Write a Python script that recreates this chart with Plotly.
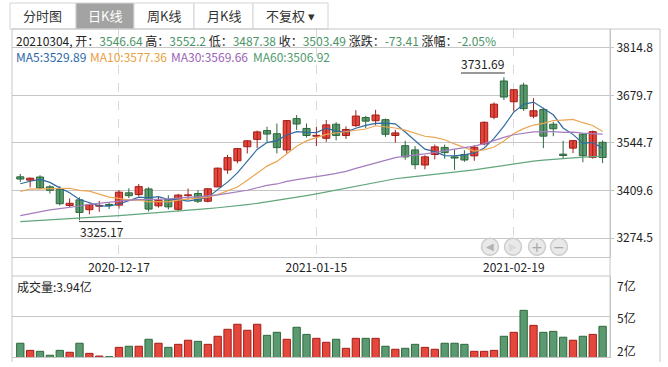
import plotly.graph_objects as go

# ---------------- data ----------------
dates = ["2020-12-03","2020-12-04","2020-12-07","2020-12-08","2020-12-09","2020-12-10","2020-12-11",
         "2020-12-14","2020-12-15","2020-12-16","2020-12-17","2020-12-18","2020-12-21","2020-12-22",
         "2020-12-23","2020-12-24","2020-12-25","2020-12-28","2020-12-29","2020-12-30","2020-12-31",
         "2021-01-04","2021-01-05","2021-01-06","2021-01-07","2021-01-08","2021-01-11","2021-01-12",
         "2021-01-13","2021-01-14","2021-01-15","2021-01-18","2021-01-19","2021-01-20","2021-01-21",
         "2021-01-22","2021-01-25","2021-01-26","2021-01-27","2021-01-28","2021-01-29","2021-02-01",
         "2021-02-02","2021-02-03","2021-02-04","2021-02-05","2021-02-08","2021-02-09","2021-02-10",
         "2021-02-18","2021-02-19","2021-02-22","2021-02-23","2021-02-24","2021-02-25","2021-02-26",
         "2021-03-01","2021-03-02","2021-03-03","2021-03-04"]

opens = [3448.5, 3439, 3448, 3420, 3413, 3367, 3383, 3355, 3365, 3370,
         3368, 3403, 3398, 3414, 3366, 3384, 3356, 3395, 3401, 3379,
         3419.73, 3468, 3494, 3534, 3555, 3580, 3571, 3525, 3614, 3586,
         3564, 3558, 3598, 3566, 3594, 3617, 3608, 3611, 3566, 3537,
         3525, 3482, 3512, 3532, 3505, 3512, 3508, 3542, 3618, 3721,
         3662, 3709, 3621, 3640, 3598, 3513, 3530, 3570, 3504, 3546.64]
highs = [3456.6, 3446.5, 3453, 3425, 3422, 3387, 3390, 3372, 3380, 3376,
         3411, 3416, 3428, 3419, 3392, 3396, 3400, 3415, 3410, 3416,
         3474.92, 3511, 3530, 3552, 3580, 3591, 3600, 3610, 3624, 3600,
         3590, 3610, 3604, 3592, 3638, 3622, 3639, 3614, 3582, 3551,
         3536, 3510, 3540, 3540, 3526, 3524, 3539, 3606, 3660, 3731.69,
         3697, 3716, 3672, 3645, 3605, 3551, 3553, 3572, 3580, 3552.2]
lows = [3434, 3418.6, 3413, 3401, 3367, 3362, 3325.17, 3342, 3349, 3357,
        3358, 3388, 3393, 3350, 3361, 3356, 3350, 3383, 3374, 3376,
        3419.73, 3457, 3487, 3515, 3530, 3547, 3515, 3515, 3582, 3560,
        3536, 3548, 3552, 3556, 3590, 3587, 3595, 3562, 3546, 3497,
        3470, 3470, 3498, 3500, 3468, 3491, 3494, 3538, 3612, 3667,
        3634, 3636, 3615, 3530, 3564, 3502, 3516, 3490, 3500, 3487.38]
closes = [3442.14, 3444.58, 3416.60, 3410.18, 3371.96, 3373.28, 3347.19, 3369.12, 3367.23, 3366.98,
          3404.87, 3394.90, 3420.57, 3356.78, 3382.32, 3363.11, 3396.56, 3397.29, 3379.04, 3414.45,
          3473.07, 3502.96, 3528.68, 3550.88, 3576.20, 3570.11, 3531.50, 3608.34, 3598.65, 3565.90,
          3566.38, 3596.22, 3566.12, 3583.09, 3621.26, 3606.75, 3624.24, 3569.43, 3573.34, 3505.18,
          3483.07, 3505.28, 3533.68, 3517.31, 3501.86, 3496.33, 3532.44, 3603.49, 3655.09, 3675.36,
          3696.17, 3642.44, 3636.36, 3564.08, 3585.05, 3509.08, 3551.40, 3508.59, 3576.90, 3503.49]

ma5 = [3428.71, 3435.96, 3440.93, 3432.58, 3417.09, 3403.32, 3383.84, 3374.35, 3365.76, 3364.76,
       3371.08, 3380.62, 3390.91, 3388.82, 3391.89, 3383.54, 3383.87, 3379.21, 3383.66, 3390.09,
       3412.08, 3433.36, 3459.64, 3494.01, 3526.36, 3545.77, 3551.47, 3567.41, 3576.96, 3574.90,
       3574.15, 3587.10, 3578.65, 3575.54, 3586.61, 3594.69, 3600.29, 3600.95, 3599.00, 3575.79,
       3551.05, 3527.26, 3520.11, 3508.90, 3508.24, 3510.89, 3516.32, 3530.29, 3557.84, 3592.54,
       3632.51, 3654.51, 3661.08, 3642.88, 3624.82, 3587.40, 3569.19, 3543.64, 3546.20, 3529.89]
ma10 = [3407.06, 3413.75, 3413.96, 3414.70, 3415.66, 3416.01, 3409.90, 3407.64, 3399.17, 3390.93,
        3387.20, 3382.23, 3382.63, 3377.29, 3378.32, 3377.31, 3382.24, 3385.06, 3386.24, 3390.99,
        3397.81, 3408.62, 3419.43, 3438.84, 3458.22, 3478.92, 3492.42, 3513.52, 3535.48, 3550.63,
        3559.96, 3569.29, 3573.03, 3576.25, 3580.76, 3584.42, 3593.70, 3589.80, 3587.27, 3581.20,
        3572.87, 3563.78, 3560.53, 3553.95, 3542.01, 3530.97, 3521.79, 3525.20, 3533.37, 3550.39,
        3571.70, 3585.42, 3595.69, 3600.36, 3608.68, 3609.96, 3611.85, 3602.36, 3594.54, 3577.36]
ma30 = [3338.29, 3343.84, 3349.36, 3354.56, 3357.98, 3361.33, 3365.42, 3370.22, 3373.43, 3376.41,
        3379.23, 3381.98, 3383.54, 3383.43, 3384.77, 3385.58, 3388.46, 3390.14, 3391.44, 3393.68,
        3397.35, 3401.52, 3405.33, 3410.27, 3417.40, 3424.08, 3428.19, 3435.41, 3440.30, 3444.18,
        3448.32, 3453.38, 3458.36, 3464.13, 3472.44, 3480.22, 3489.45, 3496.13, 3503.00, 3507.61,
        3510.21, 3513.89, 3517.66, 3523.01, 3527.00, 3531.44, 3535.97, 3542.84, 3552.04, 3560.74,
        3568.18, 3572.83, 3576.42, 3576.86, 3577.15, 3575.12, 3575.78, 3572.45, 3571.73, 3569.66]
ma60 = [3321, 3322.5, 3324, 3325.5, 3327, 3329, 3331, 3332.5, 3334, 3336,
        3338, 3340, 3342, 3344, 3346, 3348, 3350, 3352.5, 3355, 3358,
        3360.5, 3363, 3366, 3369.5, 3373, 3377, 3381, 3385.5, 3390, 3395,
        3400, 3405.5, 3411, 3417, 3423, 3428, 3433, 3438, 3443, 3446,
        3449, 3452, 3455, 3458, 3461.5, 3465, 3468, 3472.5, 3477, 3481.5,
        3486, 3489.5, 3493, 3496, 3498.5, 3501, 3503, 3504.5, 3505.8, 3506.92]

volumes = [2.87, 2.42, 2.36, 2.11, 2.42, 2.30, 2.87, 2.23, 2.06, 2.02,
           2.61, 2.68, 2.68, 3.12, 2.87, 2.61, 2.80, 3.06, 2.99, 2.80,
           3.31, 3.75, 4.07, 3.69, 4.07, 3.37, 3.56, 3.12, 3.88, 3.43,
           3.18, 2.93, 3.12, 2.55, 3.18, 3.18, 3.18, 2.68, 2.49, 2.55,
           2.80, 2.61, 2.49, 2.87, 2.87, 2.80, 2.36, 2.36, 2.42, 3.31,
           3.56, 4.95, 4.00, 3.56, 3.62, 3.25, 3.06, 3.31, 3.43, 3.94]

price_ticks = [3274.5, 3409.6, 3544.7, 3679.7, 3814.8]
price_tick_labels = ["3274.5", "3409.6", "3544.7", "3679.7", "3814.8"]
date_ticks = ["2020-12-17", "2021-01-15", "2021-02-19"]
vol_tick_labels = ["7亿", "5亿", "2亿"]
tabs = ["分时图", "日K线", "周K线", "月K线", "不复权"]
ma_names = ["MA5", "MA10", "MA30", "MA60"]

# ---------------- style ----------------
W, H = 668, 367
FONT = "Noto Sans CJK SC"
FS = 12
RED_FILL, RED_LINE = "#e5473d", "#a11e18"
GRN_FILL, GRN_LINE = "#5b9a70", "#2c683c"
MA_COLORS = ["#2f6aa3", "#eaa655", "#a57cbf", "#62a67c"]
MA_TEXT = ["#2d68a8", "#e8a040", "#9b63b8", "#4f9a6c"]
VAL_GREEN = "#4b9467"
GRID = "#c6c6c6"
TXT = "#222222"


def fx(x):
    return x / W


def fy(y):
    return 1 - y / H


up = [c >= o for o, c in zip(opens, closes)]
fills = [RED_FILL if u else GRN_FILL for u in up]
edges = [RED_LINE if u else GRN_LINE for u in up]

fig = go.Figure()

# wicks
for flag, col in ((True, RED_LINE), (False, GRN_LINE)):
    wx, wy = [], []
    for d, h, l, u in zip(dates, highs, lows, up):
        if u == flag:
            wx += [d, d, None]
            wy += [l, h, None]
    fig.add_trace(go.Scatter(x=wx, y=wy, mode="lines", line=dict(color=col, width=1),
                             hoverinfo="skip", showlegend=False, xaxis="x", yaxis="y"))

# bodies
fig.add_trace(go.Bar(x=dates, y=[max(abs(c - o), 0.6) for o, c in zip(opens, closes)],
                     base=[min(o, c) for o, c in zip(opens, closes)], width=0.72,
                     marker=dict(color=fills, line=dict(color=edges, width=1)),
                     showlegend=False, xaxis="x", yaxis="y"))

# moving averages
for name, vals, col in zip(ma_names, [ma5, ma10, ma30, ma60], MA_COLORS):
    fig.add_trace(go.Scatter(x=dates, y=vals, mode="lines", name=name,
                             line=dict(color=col, width=1.2), showlegend=False,
                             xaxis="x", yaxis="y"))

# volume
fig.add_trace(go.Bar(x=dates, y=volumes, width=0.74,
                     marker=dict(color=fills, line=dict(color=edges, width=1)),
                     showlegend=False, xaxis="x2", yaxis="y2"))

xr = [-0.84, 59.75]
fig.update_layout(
    width=W, height=H, margin=dict(l=0, r=0, t=0, b=0),
    paper_bgcolor="white", plot_bgcolor="white", barmode="overlay",
    font=dict(family=FONT, size=FS, color=TXT),
    xaxis=dict(type="category", categoryorder="array", categoryarray=dates,
               domain=[fx(12), fx(610)], range=xr, anchor="y",
               tickmode="array", tickvals=date_ticks, ticktext=date_ticks,
               showgrid=True, gridcolor="#d9d9d9", griddash="dash", gridwidth=1,
               showline=True, linecolor=GRID, ticks="", zeroline=False,
               tickfont=dict(size=FS, color=TXT, family=FONT)),
    yaxis=dict(domain=[fy(257), fy(29)], range=[3220.5, 3868.8], side="right",
               tickmode="array", tickvals=price_ticks, ticktext=price_tick_labels,
               showgrid=True, gridcolor=GRID, ticks="outside", ticklen=3, tickcolor=GRID,
               showline=True, linecolor=GRID, zeroline=False, anchor="x",
               tickfont=dict(size=FS, color=TXT, family=FONT)),
    xaxis2=dict(type="category", categoryorder="array", categoryarray=dates,
                domain=[fx(12), fx(610)], range=xr, anchor="y2",
                showticklabels=False, showgrid=False, showline=True, linecolor=GRID,
                ticks="", zeroline=False),
    yaxis2=dict(domain=[fy(357), fy(276)], range=[2.0, 7.12], side="right", anchor="x2",
                tickvals=[4.56], showticklabels=False, showgrid=True, gridcolor=GRID,
                showline=True, linecolor=GRID, ticks="", zeroline=False),
)

shapes = []
ann = []


def hline(x0, x1, y, color=GRID, width=1):
    shapes.append(dict(type="line", xref="paper", yref="paper", x0=fx(x0), x1=fx(x1),
                       y0=fy(y), y1=fy(y), line=dict(color=color, width=width)))


def vline(x, y0, y1, color=GRID, width=1):
    shapes.append(dict(type="line", xref="paper", yref="paper", x0=fx(x), x1=fx(x),
                       y0=fy(y0), y1=fy(y1), line=dict(color=color, width=width)))


# frame
hline(12, 660, 29)
hline(12, 610, 276)
vline(12, 29, 362)
vline(610, 29, 357)
vline(660, 29, 362)

# tabs
tab_edges = [10, 76, 134, 194, 253, 328]
for i, t in enumerate(tabs):
    x0, x1 = tab_edges[i], tab_edges[i + 1]
    sel = (i == 1)
    shapes.append(dict(type="rect", xref="paper", yref="paper", x0=fx(x0), x1=fx(x1),
                       y0=fy(29), y1=fy(3), line=dict(color="#d4d4d4", width=1),
                       fillcolor="#a3a3a3" if sel else "white", layer="below"))
    label = t + " ▾" if i == 4 else t
    ann.append(dict(xref="paper", yref="paper", x=fx((x0 + x1) / 2), y=fy(16),
                    text=label, showarrow=False, xanchor="center", yanchor="middle",
                    font=dict(size=13, color="white" if sel else "#333333", family=FONT)))

# info line
g = lambda v: f"<span style='color:{VAL_GREEN}'>{v}</span>"
chg = closes[-1] - closes[-2]
pct = chg / closes[-2] * 100
info = (dates[-1].replace("-", "") + ", 开：" + g(f"{opens[-1]:.2f}") + " 高：" + g(f"{highs[-1]:g}") +
        " 低：" + g(f"{lows[-1]:.2f}") + " 收：" + g(f"{closes[-1]:.2f}") +
        " 涨跌：" + g(f"{chg:.2f}") + " 涨幅：" + g(f"{pct:.2f}%"))
ann.append(dict(xref="paper", yref="paper", x=fx(14), y=fy(40), text=info, showarrow=False,
                xanchor="left", yanchor="middle", font=dict(size=FS, color=TXT, family=FONT)))

# MA legend (separate texts)
ma_last = [ma5[-1], ma10[-1], ma30[-1], ma60[-1]]
for n, v, c, xx in zip(ma_names, ma_last, MA_TEXT, [14, 88, 169, 251]):
    ann.append(dict(xref="paper", yref="paper", x=fx(xx), y=fy(57), text=f"{n}:{v:.2f}",
                    showarrow=False, xanchor="left", yanchor="middle",
                    font=dict(size=FS, color=c, family=FONT)))

# max / min markers
imax = max(range(len(highs)), key=lambda i: highs[i])
imin = min(range(len(lows)), key=lambda i: lows[i])
ann.append(dict(xref="x", yref="y", x=dates[imax], y=highs[imax], text=f"{highs[imax]:.2f}",
                showarrow=False, xanchor="right", yanchor="bottom", yshift=3, xshift=2,
                font=dict(size=FS, color=TXT, family=FONT)))
shapes.append(dict(type="line", xref="x", yref="y", x0=imax - 4.35, x1=imax + 0.1,
                   y0=highs[imax] + 12, y1=highs[imax] + 12, line=dict(color="#333333", width=1)))
ann.append(dict(xref="x", yref="y", x=dates[imin], y=lows[imin], text=f"{lows[imin]:.2f}",
                showarrow=False, xanchor="left", yanchor="top", yshift=-1, xshift=-2,
                font=dict(size=FS, color=TXT, family=FONT)))
shapes.append(dict(type="line", xref="x", yref="y", x0=imin - 0.05, x1=imin + 4.25,
                   y0=lows[imin] - 4, y1=lows[imin] - 4, line=dict(color="#333333", width=1)))

# volume panel texts
ann.append(dict(xref="paper", yref="paper", x=fx(15), y=fy(286), text=f"成交量:{volumes[-1]:.2f}亿",
                showarrow=False, xanchor="left", yanchor="middle",
                font=dict(size=FS, color=TXT, family=FONT)))
for lab, yy in zip(vol_tick_labels, [285, 317, 350]):
    ann.append(dict(xref="paper", yref="paper", x=fx(615), y=fy(yy), text=lab, showarrow=False,
                    xanchor="left", yanchor="middle", font=dict(size=FS, color=TXT, family=FONT)))

# navigation buttons
for cx, glyph, gc in zip([490, 513, 537, 559], ["◀", "▶", "+", "−"],
                         ["#b4b4b4", "#dadada", "#a8a8a8", "#a8a8a8"]):
    r = 8.5
    shapes.append(dict(type="circle", xref="paper", yref="paper", x0=fx(cx - r), x1=fx(cx + r),
                       y0=fy(246.7 + r), y1=fy(246.7 - r), fillcolor="#e9e9e9",
                       line=dict(color="#cdcdcd", width=1.5)))
    ann.append(dict(xref="paper", yref="paper", x=fx(cx), y=fy(246.7), text=glyph, showarrow=False,
                    xanchor="center", yanchor="middle",
                    font=dict(size=10 if glyph in "◀▶" else 14, color=gc, family="DejaVu Sans")))

fig.update_layout(shapes=shapes, annotations=ann)
fig.write_html("out.html", config={"displayModeBar": False},
               post_script="document.body.style.margin='0px';document.body.style.overflow='hidden';")
